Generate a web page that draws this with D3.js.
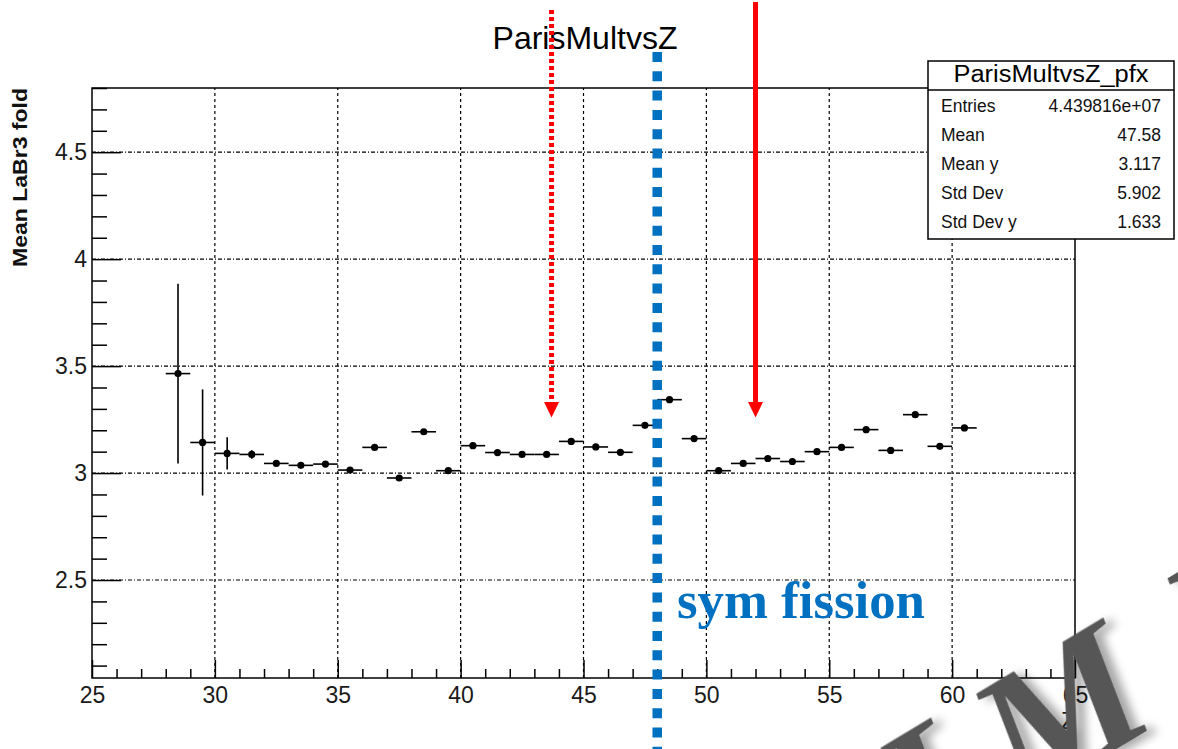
<!DOCTYPE html>
<html><head><meta charset="utf-8">
<script src="https://cdn.jsdelivr.net/npm/d3@7"></script>
<style>
html,body{margin:0;padding:0;background:#fff;}
svg{display:block;}
text{font-family:"Liberation Sans",Arial,sans-serif;}
text.serif{font-family:"Liberation Serif","Times New Roman",serif;}
</style></head>
<body>
<svg id="c" width="1178" height="749"></svg>
<script>
// ---------- data ----------
const binCenters = [28.5,29.5,30.5,31.5,32.5,33.5,34.5,35.5,36.5,37.5,38.5,39.5,40.5,41.5,42.5,43.5,44.5,45.5,46.5,47.5,48.5,49.5,50.5,51.5,52.5,53.5,54.5,55.5,56.5,57.5,58.5,59.5,60.5];
const meanValues = [3.465,3.143,3.092,3.087,3.045,3.036,3.042,3.014,3.120,2.977,3.193,3.011,3.128,3.096,3.087,3.087,3.148,3.122,3.097,3.223,3.343,3.161,3.011,3.045,3.068,3.054,3.100,3.120,3.203,3.106,3.273,3.125,3.211];
const meanErrors = [0.420,0.248,0.075,0.020,0.010,0.010,0.008,0.008,0.008,0.008,0.008,0.008,0.006,0.006,0.006,0.006,0.006,0.006,0.006,0.006,0.006,0.006,0.006,0.006,0.006,0.006,0.006,0.006,0.006,0.006,0.006,0.006,0.006];
const binHalfWidth = 0.5;

const xMajorTicks = [25,30,35,40,45,50,55,60,65];
const xTickLabels = ["25","30","35","40","45","50","55","60","65"];
const xMinorTicks = [26,27,28,29,31,32,33,34,36,37,38,39,41,42,43,44,46,47,48,49,51,52,53,54,56,57,58,59,61,62,63,64];
const yMajorTicks = [2.5,3,3.5,4,4.5];
const yTickLabels = ["2.5","3","3.5","4","4.5"];
const yMinorTicks = [2.1,2.2,2.3,2.4,2.6,2.7,2.8,2.9,3.1,3.2,3.3,3.4,3.6,3.7,3.8,3.9,4.1,4.2,4.3,4.4,4.6,4.7,4.8];

const statLabels = ["Entries","Mean","Mean y","Std Dev","Std Dev y"];
const statValues = ["4.439816e+07","47.58","3.117","5.902","1.633"];

const dottedArrowZ = 43.7;
const solidArrowZ = 52.0;
const arrowTipY = 3.26;
const symFissionZ = 48;
const watermarkLetters = ["L","M","U"];

// ---------- scales ----------
const W = 1178, H = 749;
const x = d3.scaleLinear().domain([25,65]).range([92,1075]);
const y = d3.scaleLinear().domain([2.042,4.8]).range([678,88]);
const svg = d3.select("#c");

const defs = svg.append("defs");
const f = defs.append("filter").attr("id","shadow").attr("x","-30%").attr("y","-30%").attr("width","160%").attr("height","160%");
f.append("feDropShadow").attr("dx",7).attr("dy",6).attr("stdDeviation",5).attr("flood-color","#000").attr("flood-opacity",0.35);

svg.append("rect").attr("width",W).attr("height",H).attr("fill","#fff");

// grid
const grid = svg.append("g");
grid.selectAll(".gx").data(xMajorTicks.slice(1,-1)).join("line")
  .attr("x1",d=>x(d)).attr("x2",d=>x(d)).attr("y1",y.range()[0]).attr("y2",y.range()[1])
  .attr("stroke","#000").attr("stroke-width",1.2).attr("stroke-dasharray","3,3");
grid.selectAll(".gy").data(yMajorTicks).join("line")
  .attr("x1",x.range()[0]).attr("x2",x.range()[1]).attr("y1",d=>y(d)).attr("y2",d=>y(d))
  .attr("stroke","#000").attr("stroke-width",1.2).attr("stroke-dasharray","4,2,1,2");

// axes
svg.append("g").attr("transform",`translate(0,${y.range()[0]})`)
  .call(d3.axisBottom(x).tickValues(xMajorTicks).tickFormat((d,i)=>xTickLabels[i]).tickSize(-18).tickPadding(9));
svg.append("g").attr("transform",`translate(0,${y.range()[0]})`)
  .call(d3.axisBottom(x).tickValues(xMinorTicks).tickFormat("").tickSize(-9));
svg.append("g").attr("transform",`translate(${x.range()[0]},0)`)
  .call(d3.axisLeft(y).tickValues(yMajorTicks).tickFormat((d,i)=>yTickLabels[i]).tickSize(-29).tickPadding(5));
svg.append("g").attr("transform",`translate(${x.range()[0]},0)`)
  .call(d3.axisLeft(y).tickValues(yMinorTicks).tickFormat("").tickSize(-15));
svg.selectAll(".domain").remove();
svg.selectAll(".tick line").attr("stroke","#000").attr("stroke-width",1.5);
svg.selectAll(".tick text").attr("font-size",23).attr("fill","#1a1a1a");

// frame
svg.append("rect").attr("x",x.range()[0]).attr("y",y.range()[1])
  .attr("width",x.range()[1]-x.range()[0]).attr("height",y.range()[0]-y.range()[1])
  .attr("fill","none").attr("stroke","#000").attr("stroke-width",1.5);

// titles
svg.append("text").attr("x",585).attr("y",49).attr("text-anchor","middle")
  .attr("font-size",32).attr("fill","#000").text("ParisMultvsZ");
svg.append("text").attr("transform",`translate(27,${y.range()[1]}) rotate(-90)`)
  .attr("text-anchor","end").attr("font-size",20).attr("font-weight","bold").attr("fill","#111")
  .attr("textLength",179).attr("lengthAdjust","spacingAndGlyphs").text("Mean LaBr3 fold");
svg.append("text").attr("x",x.range()[1]).attr("y",729).attr("text-anchor","end")
  .attr("font-size",23).attr("fill","#1a1a1a").text("Z");

// data
const pts = binCenters.map((c,i)=>({c, v:meanValues[i], e:meanErrors[i]}));
const dg = svg.append("g");
dg.selectAll(".hb").data(pts).join("line")
  .attr("x1",d=>x(d.c-binHalfWidth)).attr("x2",d=>x(d.c+binHalfWidth))
  .attr("y1",d=>y(d.v)).attr("y2",d=>y(d.v)).attr("stroke","#000").attr("stroke-width",1.6);
dg.selectAll(".vb").data(pts).join("line")
  .attr("x1",d=>x(d.c)).attr("x2",d=>x(d.c))
  .attr("y1",d=>y(d.v-d.e)).attr("y2",d=>y(d.v+d.e)).attr("stroke","#000").attr("stroke-width",1.6);
dg.selectAll("circle").data(pts).join("circle")
  .attr("cx",d=>x(d.c)).attr("cy",d=>y(d.v)).attr("r",3.6).attr("fill","#000");

// red arrows
const tip = y(arrowTipY);
svg.append("line").attr("x1",x(dottedArrowZ)).attr("x2",x(dottedArrowZ)).attr("y1",10).attr("y2",tip-14)
  .attr("stroke","#ff0000").attr("stroke-width",5).attr("stroke-dasharray","4,3");
svg.append("line").attr("x1",x(solidArrowZ)).attr("x2",x(solidArrowZ)).attr("y1",2).attr("y2",tip-14)
  .attr("stroke","#ff0000").attr("stroke-width",5);
[dottedArrowZ, solidArrowZ].forEach(z=>{
  const cx = x(z);
  svg.append("path").attr("d",`M${cx-7.5},${tip-15.5}L${cx+7.5},${tip-15.5}L${cx},${tip}Z`).attr("fill","#ff0000");
});

// blue dotted line
svg.append("line").attr("x1",x(symFissionZ)).attr("x2",x(symFissionZ)).attr("y1",52).attr("y2",H)
  .attr("stroke","#0070c0").attr("stroke-width",9.5).attr("stroke-dasharray","10,9.3");
svg.append("text").attr("class","serif").attr("x",677).attr("y",618)
  .attr("font-weight","bold").attr("font-size",52).attr("fill","#0070c0")
  .attr("textLength",248).attr("lengthAdjust","spacingAndGlyphs").text("sym fission");

// stats box
const sb = svg.append("g");
sb.append("rect").attr("x",928).attr("y",61).attr("width",246).attr("height",178)
  .attr("fill","#fff").attr("stroke","#000").attr("stroke-width",1.5);
sb.append("line").attr("x1",928).attr("x2",1174).attr("y1",90).attr("y2",90).attr("stroke","#000").attr("stroke-width",1.5);
sb.append("text").attr("x",1051).attr("y",82).attr("text-anchor","middle").attr("font-size",23)
  .attr("textLength",195).attr("lengthAdjust","spacingAndGlyphs").text("ParisMultvsZ_pfx");
const rowY = [112,141,170,199,228];
statLabels.forEach((l,i)=>{
  sb.append("text").attr("x",941).attr("y",rowY[i]).attr("font-size",17.5).attr("fill","#111").text(l);
  sb.append("text").attr("x",1161).attr("y",rowY[i]).attr("font-size",17.5).attr("fill","#111")
    .attr("text-anchor","end").text(statValues[i]);
});

// watermark (letters placed along a rotated baseline)
const wm = svg.append("g").attr("transform","translate(1104,760) rotate(-31)").attr("filter","url(#shadow)");
const wmPos = [[-205,-6],[-94,-3],[132,-4]];
watermarkLetters.forEach((ch,i)=>{
  wm.append("text").attr("class","serif").attr("x",wmPos[i][0]).attr("y",wmPos[i][1])
    .attr("font-weight","bold").attr("font-style","italic").attr("font-size",182)
    .attr("fill","#575757").text(ch);
});
</script>
</body></html>
